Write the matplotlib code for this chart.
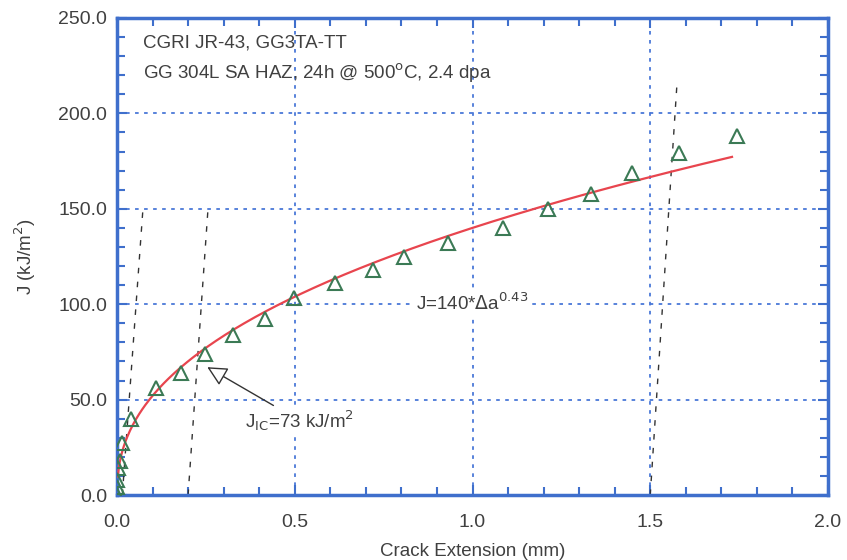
import matplotlib
matplotlib.use("Agg")
import matplotlib.pyplot as plt
import numpy as np
from matplotlib.ticker import MultipleLocator, FormatStrFormatter

plt.rcParams['font.family'] = ['Liberation Sans', 'DejaVu Sans']

# data points (crack extension mm, J kJ/m2)
da = [0.0, 0.0, 0.0, 0.003, 0.008, 0.014, 0.039, 0.11, 0.18, 0.248, 0.326, 0.416,
      0.498, 0.613, 0.72, 0.807, 0.93, 1.086, 1.212, 1.333, 1.45, 1.58, 1.744]
J = [0, 4, 8, 14, 18, 27, 40, 56, 64, 74, 84, 92,
     103, 111, 118, 125, 132, 140, 150, 158, 169, 179, 188]

# power-law fit J = C * da^n
fit_C = 140
fit_n = 0.43
fit_range = (0.002, 1.73)

# exclusion / offset lines: (x_start, J_start, x_end, J_end)
line_x0 = [0.015, 0.2, 1.5]
line_x1 = [0.073, 0.256, 1.575]
line_j0 = [0, 0, 0]
line_j1 = [150, 150, 215]

blue = '#3f6fcc'
tc = '#404040'
fs = 13.5
fig = plt.figure(figsize=(8.47, 5.6), dpi=100)
ax = fig.add_axes([117/847, 1-495/560, (828-117)/847, (495-18)/560])

ax.set_xlim(0, 2.0)
ax.set_ylim(0, 250)

ax.grid(True, which='major', color='#4a78d8', linestyle=(0, (2, 3)), linewidth=1.3)

for x0, x1, j0, j1 in zip(line_x0, line_x1, line_j0, line_j1):
    ax.plot([x0, x1], [j0, j1], color='#333333', linestyle=(0, (4, 6)), linewidth=1.0, zorder=2)

xf = np.linspace(fit_range[0], fit_range[1], 400)
ax.plot(xf, fit_C * xf ** fit_n, color='#e8454e', linewidth=1.6, zorder=3)

ax.plot(da, J, linestyle='none', marker='^', markersize=10.5, markerfacecolor='none',
        markeredgecolor='#3b7a55', markeredgewidth=1.5, zorder=4)

ax.xaxis.set_major_locator(MultipleLocator(0.5))
ax.xaxis.set_minor_locator(MultipleLocator(0.1))
ax.yaxis.set_major_locator(MultipleLocator(50))
ax.yaxis.set_minor_locator(MultipleLocator(10))
ax.xaxis.set_major_formatter(FormatStrFormatter('%.1f'))
ax.yaxis.set_major_formatter(FormatStrFormatter('%.1f'))
ax.tick_params(which='both', direction='in', color=blue, top=True, right=True,
               labelsize=14, labelcolor=tc, width=1.5)
ax.tick_params(which='major', length=7)
ax.tick_params(which='minor', length=6)
ax.tick_params(axis='x', which='both', pad=14)
ax.tick_params(axis='y', which='both', pad=7)

for s in ax.spines.values():
    s.set_color(blue)
    s.set_linewidth(2.5)

ax.set_xlabel('Crack Extension (mm)', fontsize=fs, color=tc, labelpad=8)
ax.set_ylabel('J (kJ/m$^2$)', fontsize=fs, color=tc, labelpad=15)

ax.text(0.073, 237, 'CGRI JR-43, GG3TA-TT', fontsize=fs, color=tc, va='center')
ax.text(0.073, 221, 'GG 304L SA HAZ, 24h @ 500$^\\mathrm{o}$C, 2.4 dpa', fontsize=fs,
        color=tc, va='center')

ax.text(0.84, 100.5, 'J=140*$\\Delta$a$^{0.43}$', fontsize=fs, color=tc, va='center',
        bbox=dict(facecolor='white', edgecolor='none', pad=1), zorder=5)

ax.annotate('J$_{\\mathrm{IC}}$=73 kJ/m$^2$', xy=(0.254, 67), xytext=(0.36, 39),
            fontsize=fs, color=tc, va='center', ha='left',
            arrowprops=dict(arrowstyle='-|>,head_length=0.9,head_width=0.45', fc='white',
                            ec='#333333', lw=1.0, shrinkA=2, shrinkB=0),
            bbox=dict(facecolor='white', edgecolor='none', pad=1), zorder=5)

fig.savefig('out.png', dpi=100)
